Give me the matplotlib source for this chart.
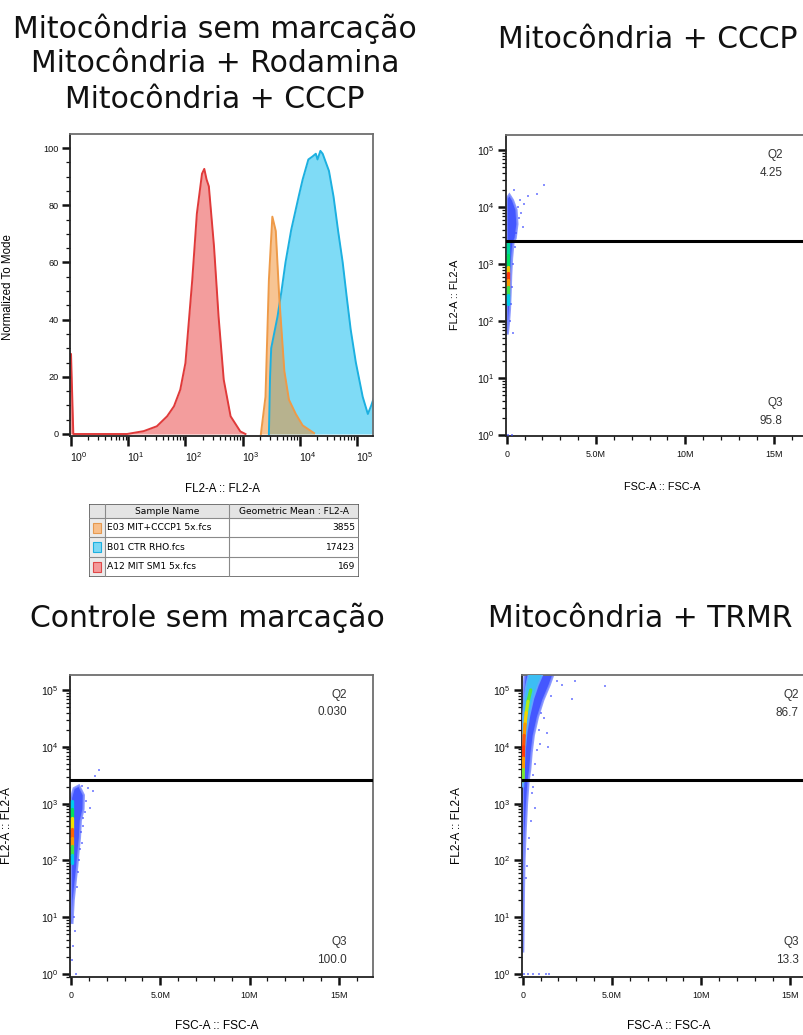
import numpy as np
import matplotlib
matplotlib.use('Agg')
import matplotlib.pyplot as plt
from matplotlib.colors import LinearSegmentedColormap
from matplotlib.collections import LineCollection
from matplotlib.patches import Polygon, Rectangle
from matplotlib.ticker import FixedLocator, LogLocator, NullFormatter, MultipleLocator
from matplotlib.transforms import ScaledTranslation

plt.rcParams['font.family'] = ['Liberation Sans', 'DejaVu Sans']
plt.rcParams['mathtext.fontset'] = 'custom'
plt.rcParams['mathtext.rm'] = 'Liberation Sans'
plt.rcParams['mathtext.it'] = 'Liberation Sans:italic'
plt.rcParams['mathtext.bf'] = 'Liberation Sans:bold'

# ---------------- data: histogram (log10 FL2-A, % of mode) ----------------
red_log = [-0.02, 0.0, 0.04, 0.98, 1.27, 1.50, 1.68, 1.80, 1.91, 2.00, 2.12, 2.20, 2.29, 2.33,
           2.37, 2.41, 2.50, 2.58, 2.67, 2.79, 2.96, 3.05]
red_val = [28, 28, 0, 0, 1, 2.7, 6.2, 9.7, 15.5, 24.8, 54, 77, 91, 92.7,
           89, 86.6, 65.6, 41, 19, 6.2, 0.9, 0]
orange_log = [3.32, 3.40, 3.46, 3.52, 3.58, 3.64, 3.73, 3.81, 3.93, 4.05, 4.25]
orange_val = [0, 13, 54, 76, 71, 48, 22, 12, 7, 3, 0.3]
blue_log = [3.46, 3.48, 3.50, 3.61, 3.68, 3.75, 3.85, 3.98, 4.05, 4.15, 4.22, 4.28, 4.31, 4.36,
            4.40, 4.51, 4.59, 4.67, 4.75, 4.82, 4.89, 4.98, 5.10, 5.19, 5.25, 5.30]
blue_val = [0, 20, 30, 41, 50, 60, 71.4, 83, 89, 96, 97, 98, 96, 99,
            98, 92, 83, 71, 60, 48, 36.5, 25, 13, 7, 10, 13]

sample_names = ['E03 MIT+CCCP1 5x.fcs', 'B01 CTR RHO.fcs', 'A12 MIT SM1 5x.fcs']
geo_means = ['3855', '17423', '169']

# ---------------- data: dot plots (FSC-A in millions, log10 FL2-A) ----------------
# Mitocôndria + CCCP
cccp_env_x = [0, 0, 0.15, 0.35, 0.55, 0.6, 0.5, 0.38, 0.3, 0.25, 0.22, 0.18, 0.12, 0.06]
cccp_env_log = [1.78, 4.15, 4.22, 4.12, 3.95, 3.7, 3.45, 3.38, 3.1, 2.8, 2.5, 2.2, 1.95, 1.78]
cccp_core_x = [0.1, 0.1, 0.1, 0.1, 0.1, 0.1, 0.1, 0.1]
cccp_core_log = [3.4, 3.15, 2.95, 2.85, 2.72, 2.6, 2.45, 2.3]
cccp_core_level = [0.3, 0.35, 0.45, 0.9, 0.95, 0.55, 0.35, 0.1]
cccp_out_x = [2.1, 1.68, 1.2, 0.97, 0.75, 0.9, 0.37, 0.65, 0.4, 0.1, 0.3, 0.8, 0.7, 0.45,
              0.35, 0.3, 0.25, 0.2, 0.5]
cccp_out_log = [4.39, 4.23, 4.19, 4.06, 4.12, 3.65, 1.79, 4.0, 4.3, 0.0, 0.0, 3.9, 3.8, 3.3,
                3.0, 2.6, 2.3, 2.0, 3.55]
cccp_gate_log = 3.40
cccp_q2, cccp_q3 = '4.25', '95.8'

# Controle sem marcação
ctrl_env_x = [0, 0, 0.15, 0.45, 0.72, 0.7, 0.55, 0.5, 0.42, 0.35, 0.25, 0.15, 0.08]
ctrl_env_log = [0.9, 3.1, 3.27, 3.32, 3.15, 2.9, 2.7, 2.4, 2.15, 1.9, 1.6, 1.3, 0.9]
ctrl_core_x = [0.08, 0.08, 0.08, 0.08, 0.08, 0.08, 0.08, 0.08]
ctrl_core_log = [3.05, 2.9, 2.75, 2.55, 2.4, 2.25, 2.1, 1.95]
ctrl_core_level = [0.15, 0.3, 0.5, 0.75, 0.95, 0.55, 0.35, 0.1]
ctrl_out_x = [1.59, 1.34, 0.93, 1.25, 1.06, 0.6, 0.32, 0.22, 0.7, 0.55, 0.45, 0.1, 0.05, 0.3,
              0.85, 0.8, 0.65, 0.6, 0.5, 0.38, 0.15]
ctrl_out_log = [3.60, 3.49, 3.27, 3.23, 2.92, 3.31, 1.54, 0.76, 2.75, 2.5, 2.0, 0.5, 0.25, 0.0,
                3.05, 2.85, 2.6, 2.3, 2.2, 1.8, 1.0]
ctrl_gate_log = 3.42
ctrl_q2, ctrl_q3 = '0.030', '100.0'

# Mitocôndria + TRMR
trmr_env_x = [0, 0, 0.03, 0.12, 1.75, 1.5, 1.15, 0.85, 0.62, 0.5, 0.42, 0.33, 0.24, 0.16,
              0.1, 0.07, 0.05, 0.03]
trmr_env_log = [0.4, 4.6, 4.95, 5.3, 5.3, 5.08, 4.82, 4.52, 4.2, 3.9, 3.6, 3.4, 3.0, 2.5,
                2.0, 1.5, 0.9, 0.4]
trmr_mid_x = [0.0, 0.0, 0.08, 0.2, 0.35, 1.15, 0.85, 0.6, 0.38, 0.22, 0.13, 0.08, 0.04]
trmr_mid_log = [3.3, 4.5, 4.85, 5.1, 5.3, 5.3, 5.08, 4.85, 4.55, 4.25, 3.95, 3.65, 3.3]
trmr_core_x = [0.45, 0.3, 0.2, 0.13, 0.08, 0.05, 0.04, 0.03, 0.02]
trmr_core_log = [5.0, 4.8, 4.6, 4.4, 4.2, 4.0, 3.8, 3.6, 3.4]
trmr_core_level = [0.45, 0.5, 0.6, 0.7, 0.8, 0.95, 0.9, 0.6, 0.4]
trmr_out_x = [2.93, 4.61, 2.74, 2.18, 1.44, 1.34, 0.69, 0.5, 1.9, 1.2, 0.9, 0.7, 0.45, 0.3, 0.2,
              0.05, 0.3, 0.6, 0.9, 1.3, 1.5, 1.6, 1.05, 0.95, 0.8, 0.6, 0.55, 0.35, 0.25]
trmr_out_log = [5.16, 5.07, 4.84, 5.09, 4.0, 4.24, 2.92, 3.18, 5.15, 4.5, 4.3, 3.7, 2.7, 2.2, 1.7,
                0.0, 0.0, 0.0, 0.0, 0.0, 0.0, 4.9, 4.6, 4.05, 3.95, 3.5, 3.3, 2.4, 1.9]
trmr_gate_log = 3.42
trmr_q2, trmr_q3 = '86.7', '13.3'

# ---------------- figure ----------------
W, H = 804, 1035
fig = plt.figure(figsize=(W / 100, H / 100), dpi=100)


def px_axes(l, t, r, b):
    return fig.add_axes([l / W, 1 - b / H, (r - l) / W, (b - t) / H])


def ftext(x, y, s, **kw):
    fig.text(x / W, 1 - y / H, s, **kw)


flow_cmap = LinearSegmentedColormap.from_list(
    'flowjo', ['#1a2cff', '#00c8ff', '#00e060', '#f0f000', '#ff8000', '#ff1010'])

FRAME = '#6e6e6e'


def style_frame(ax):
    for s in ax.spines.values():
        s.set_color(FRAME)
        s.set_linewidth(1.3)
    ax.spines['left'].set_color('#222222')
    ax.spines['bottom'].set_color('#222222')
    ax.tick_params(which='major', direction='out', length=6, width=1.8, colors='#111111',
                   labelsize=7.6, pad=2)
    ax.tick_params(which='minor', direction='out', length=3, width=0.9, colors='#111111')


# ---------------- histogram ----------------
ax = px_axes(70, 134, 373, 436)
for lg, val, fc, ec in [(blue_log, blue_val, '#00b8ee', '#1cb0e0'),
                        (red_log, red_val, '#e83c3c', '#e03a3a'),
                        (orange_log, orange_val, '#f08a28', '#ee9a48')]:
    xv = 10 ** np.array(lg)
    ax.fill_between(xv, 0, val, color=fc, alpha=0.5, lw=0)
    ax.plot(xv, val, color=ec, lw=1.4)
ax.set_xscale('log')
ax.set_xlim(10 ** -0.018, 10 ** 5.28)
ax.set_ylim(-0.7, 104.9)
ax.xaxis.set_major_locator(FixedLocator([10 ** k for k in range(6)]))
ax.xaxis.set_minor_locator(LogLocator(base=10, subs=np.arange(2, 10), numticks=20))
ax.xaxis.set_minor_formatter(NullFormatter())
ax.set_xticklabels([r'$10^{%d}$' % k for k in range(6)])
ax.yaxis.set_major_locator(FixedLocator([0, 20, 40, 60, 80, 100]))
ax.yaxis.set_minor_locator(MultipleLocator(5))
style_frame(ax)
ax.tick_params(axis='y', which='major', labelsize=6.6)
ax.tick_params(axis='x', which='major', length=7, pad=3)
for lab in ax.get_xticklabels():
    lab.set_transform(lab.get_transform() + ScaledTranslation(0.08, 0, fig.dpi_scale_trans))
ftext(222, 489, 'FL2-A :: FL2-A', ha='center', va='center', fontsize=8.3)
ftext(8, 287, 'Normalized To Mode', ha='center', va='center', rotation=90, fontsize=8.3)

# ---------------- table legend ----------------
tab = px_axes(89.3, 504.3, 359.3, 576.7)
tab.set_xlim(0, 270)
tab.set_ylim(72.4, 0)
tab.axis('off')
rows = [0, 14, 33, 52.5, 72.4]
cols = [0, 15.7, 139.7, 270]
tab.add_patch(Rectangle((0, 0), 270, 14, facecolor='#e4e4e4', edgecolor='none'))
tab.add_patch(Rectangle((0, 14), 15.7, 58.4, facecolor='#ececec', edgecolor='none'))
for yv in rows[1:-1]:
    tab.plot([0, 270], [yv, yv], color='#8a8a8a', lw=0.8)
for xv in cols[1:-1]:
    tab.plot([xv, xv], [0, 72.4], color='#8a8a8a', lw=0.8)
tab.add_patch(Rectangle((0, 0), 270, 72.4, facecolor='none', edgecolor='#555555', lw=1.1))
tab.text(77.7, 7, 'Sample Name', ha='center', va='center', fontsize=6.6,
         family='DejaVu Sans')
tab.text(204.8, 7, 'Geometric Mean : FL2-A', ha='center', va='center', fontsize=6.6,
         family='DejaVu Sans')
swatch_fc = ['#f8c08c', '#7cd8f4', '#f49a9a']
swatch_ec = ['#e69a50', '#1cb0e0', '#e04848']
for i, (nm, gm) in enumerate(zip(sample_names, geo_means)):
    yc = (rows[i + 1] + rows[i + 2]) / 2
    tab.add_patch(Rectangle((3.4, yc - 5), 8.5, 10, facecolor=swatch_fc[i],
                            edgecolor=swatch_ec[i], lw=0.8))
    tab.text(18, yc, nm, ha='left', va='center', fontsize=6.6, family='DejaVu Sans')
    tab.text(265.7, yc, gm, ha='right', va='center', fontsize=6.6, family='DejaVu Sans')


# ---------------- dot plots ----------------
def dot_panel(rect, env_x, env_log, core_x, core_log, core_level, out_x, out_log, gate_log,
              q2, q3, ylim_lo, ylim_hi, mid_x=None, mid_log=None):
    ax = px_axes(*rect)
    ax.set_yscale('log')
    ax.set_xlim(-0.056, 16.9)
    ax.set_ylim(10 ** ylim_lo, 10 ** ylim_hi)
    verts = np.column_stack([env_x, 10 ** np.array(env_log)])
    ax.add_patch(Polygon(verts, closed=True, facecolor='#2a40ff', edgecolor='#7f8eff',
                         lw=1.6, alpha=0.88, zorder=2))
    if mid_x is not None:
        mv = np.column_stack([mid_x, 10 ** np.array(mid_log)])
        ax.add_patch(Polygon(mv, closed=True, facecolor='#3cc4f4', edgecolor='#60a8ff',
                             lw=1.2, alpha=0.95, zorder=3))
    pts = np.column_stack([core_x, 10 ** np.array(core_log)])
    segs = [pts[i:i + 2] for i in range(len(pts) - 1)]
    cols_ = [flow_cmap((core_level[i] + core_level[i + 1]) / 2) for i in range(len(pts) - 1)]
    ax.add_collection(LineCollection(segs, colors=cols_, linewidths=2.4, zorder=4,
                                     capstyle='round'))
    ax.scatter(out_x, 10 ** np.array(out_log), s=3, marker='s', color='#3a48ff',
               alpha=0.6, lw=0, zorder=3, clip_on=False)
    ax.axhline(10 ** gate_log, color='black', lw=2.2, zorder=5)
    ax.text(15.45, 10 ** (ylim_hi - 0.35), 'Q2', ha='right', va='center', fontsize=8.5,
            color='#333333')
    ax.text(15.45, 10 ** (ylim_hi - 0.66), q2, ha='right', va='center', fontsize=8.5,
            color='#333333')
    ax.text(15.45, 10 ** 0.57, 'Q3', ha='right', va='center', fontsize=8.5, color='#333333')
    ax.text(15.45, 10 ** 0.25, q3, ha='right', va='center', fontsize=8.5, color='#333333')
    ax.yaxis.set_major_locator(FixedLocator([10 ** k for k in range(6)]))
    ax.set_yticklabels([r'$10^{%d}$' % k for k in range(6)])
    ax.yaxis.set_minor_locator(LogLocator(base=10, subs=np.arange(2, 10), numticks=20))
    ax.yaxis.set_minor_formatter(NullFormatter())
    ax.xaxis.set_major_locator(FixedLocator([0, 5, 10, 15]))
    ax.set_xticklabels(['0', '5.0M', '10M', '15M'])
    ax.xaxis.set_minor_locator(FixedLocator(list(range(0, 17))))
    style_frame(ax)
    ax.tick_params(axis='x', which='major', labelsize=6.4, pad=4)
    return ax


dot_panel((505.7, 135, 808.4, 436), cccp_env_x, cccp_env_log, cccp_core_x, cccp_core_log,
          cccp_core_level, cccp_out_x, cccp_out_log, cccp_gate_log, cccp_q2, cccp_q3,
          -0.0175, 5.263)
ftext(662, 487, 'FSC-A :: FSC-A', ha='center', va='center', fontsize=7.8)
ftext(455, 295, 'FL2-A :: FL2-A', ha='center', va='center', rotation=90, fontsize=7.8)

dot_panel((70, 675, 372.7, 976.7), ctrl_env_x, ctrl_env_log, ctrl_core_x, ctrl_core_log,
          ctrl_core_level, ctrl_out_x, ctrl_out_log, ctrl_gate_log, ctrl_q2, ctrl_q3,
          -0.047, 5.264)
ftext(217, 1026, 'FSC-A :: FSC-A', ha='center', va='center', fontsize=8.6)
ftext(7, 826, 'FL2-A :: FL2-A', ha='center', va='center', rotation=90, fontsize=8.6)

dot_panel((521.7, 675, 824.4, 977), trmr_env_x, trmr_env_log, trmr_core_x, trmr_core_log,
          trmr_core_level, trmr_out_x, trmr_out_log, trmr_gate_log, trmr_q2, trmr_q3,
          -0.05, 5.264, mid_x=trmr_mid_x, mid_log=trmr_mid_log)
ftext(669, 1026, 'FSC-A :: FSC-A', ha='center', va='center', fontsize=8.6)
ftext(457, 826, 'FL2-A :: FL2-A', ha='center', va='center', rotation=90, fontsize=8.6)

# ---------------- titles ----------------
TFS = 21.5
ftext(215, 37.5, 'Mitocôndria sem marcação', ha='center', va='baseline', fontsize=TFS,
      family='DejaVu Sans', color='#111111')
ftext(215, 72.5, 'Mitocôndria + Rodamina', ha='center', va='baseline', fontsize=TFS,
      family='DejaVu Sans', color='#111111')
ftext(215, 107.5, 'Mitocôndria + CCCP', ha='center', va='baseline', fontsize=TFS,
      family='DejaVu Sans', color='#111111')
ftext(648, 48, 'Mitocôndria + CCCP', ha='center', va='baseline', fontsize=TFS,
      family='DejaVu Sans', color='#111111')
ftext(207, 627, 'Controle sem marcação', ha='center', va='baseline', fontsize=TFS,
      family='DejaVu Sans', color='#111111')
ftext(640, 627, 'Mitocôndria + TRMR', ha='center', va='baseline', fontsize=TFS,
      family='DejaVu Sans', color='#111111')

fig.savefig('out.png', dpi=100)
